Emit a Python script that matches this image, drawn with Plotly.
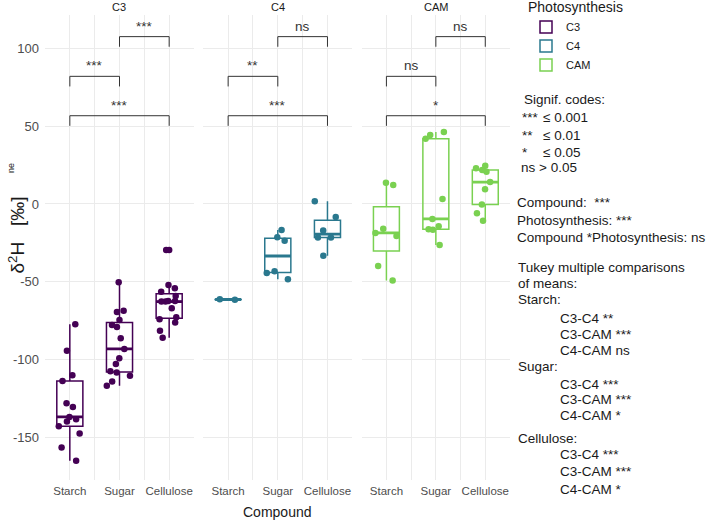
import numpy as np
import plotly.graph_objects as go

W, H = 709, 520


def px(x):
    return x / W


def py(y):
    return 1 - y / H


FONT = "Liberation Sans, Arial, sans-serif"

# ---------------- data ----------------
compounds = ["Starch", "Sugar", "Cellulose"]
photo_types = ["C3", "C4", "CAM"]
colors = ["#440154", "#2A788E", "#7AD151"]

c3_starch = [-77.3, -94.2, -110.0, -113.7, -128.0, -130.4, -136.8, -139.8,
             -138.3, -142.8, -147.5, -156.5, -164.9]
c3_sugar = [-50.3, -69.4, -68.5, -74.5, -79.0, -77.7, -86.3, -93.1, -99.1,
            -102.8, -108.3, -107.5, -110.3, -114.1, -116.7]
c3_cellulose = [-29.5, -52.0, -54.2, -56.3, -59.1, -62.3, -62.3, -62.7, -62.7,
                -67.0, -72.8, -74.1, -76.2, -81.4, -85.9]

c4_starch = [-61.5, -61.2]
c4_sugar = [-16.7, -21.4, -23.6, -43.2, -44.3, -48.4]
c4_cellulose = [1.7, -8.3, -17.1, -21.6, -21.6, -33.3]

cam_starch = [13.7, 12.2, -15.9, -18.6, -20.6, -39.8, -49.2]
cam_sugar = [46.2, 44.3, 41.9, 3.2, -9.6, -14.3, -16.3, -16.5, -26.3]
cam_cellulose = [24.6, 22.9, 21.8, 20.7, 14.1, 9.4, -0.4, -6.0, -10.7]

panel_data = {
    "C3": [c3_starch, c3_sugar, c3_cellulose],
    "C4": [c4_starch, c4_sugar, c4_cellulose],
    "CAM": [cam_starch, cam_sugar, cam_cellulose],
}

# significance brackets (pair, top y) and labels per panel
bracket_pairs = [("Starch", "Sugar"), ("Starch", "Cellulose"), ("Sugar", "Cellulose")]
bracket_tops = [82.0, 56.7, 107.5]
bracket_tip = 6.5
bracket_labels = {
    "C3": ["***", "***", "***"],
    "C4": ["**", "***", "ns"],
    "CAM": ["ns", "*", "ns"],
}

y_ticks = [-150, -100, -50, 0, 50, 100]
y_ticktext = ["-150", "-100", "-50", "0", "50", "100"]

# ---------------- figure ----------------
fig = go.Figure()

pos = {c: i + 1 for i, c in enumerate(compounds)}
axis_ids = ["", "2", "3"]

for k, ptype in enumerate(photo_types):
    xa, ya = "x" + axis_ids[k], "y" + axis_ids[k]
    col = colors[k]
    groups = panel_data[ptype]
    q1s, meds, q3s, lfs, ufs = [], [], [], [], []
    out_x, out_y = [], []
    for c, vals in zip(compounds, groups):
        v = np.array(vals, dtype=float)
        q1, med, q3 = np.percentile(v, [25, 50, 75])
        iqr = q3 - q1
        inside = v[(v >= q1 - 1.5 * iqr) & (v <= q3 + 1.5 * iqr)]
        q1s.append(q1)
        meds.append(med)
        q3s.append(q3)
        lfs.append(inside.min())
        ufs.append(inside.max())
        for val in v[(v < q1 - 1.5 * iqr) | (v > q3 + 1.5 * iqr)]:
            out_x.append(pos[c])
            out_y.append(val)

    box_x = [pos[c] for c in compounds]
    # box (ggplot-style quartiles)
    fig.add_trace(go.Box(
        x=box_x, q1=q1s, median=meds, q3=q3s,
        lowerfence=lfs, upperfence=ufs,
        name=ptype, legendgroup=ptype, showlegend=True,
        boxpoints=False, whiskerwidth=0,
        line=dict(color=col, width=1.5), fillcolor="rgba(0,0,0,0)",
        xaxis=xa, yaxis=ya, hoverinfo="skip",
    ))
    # thicker median bar (as in ggplot)
    fig.add_trace(go.Box(
        x=box_x, q1=meds, median=meds, q3=meds,
        lowerfence=meds, upperfence=meds,
        name=ptype, legendgroup=ptype, showlegend=False,
        boxpoints=False, whiskerwidth=0,
        line=dict(color=col, width=2.8), fillcolor="rgba(0,0,0,0)",
        xaxis=xa, yaxis=ya, hoverinfo="skip",
    ))
    # outliers drawn at the box centre
    if out_x:
        fig.add_trace(go.Scatter(
            x=out_x, y=out_y, mode="markers",
            marker=dict(color=col, size=6.5),
            showlegend=False, xaxis=xa, yaxis=ya, hoverinfo="skip",
        ))
    # jittered points
    xs, ys = [], []
    for c, vals in zip(compounds, groups):
        xs += [pos[c]] * len(vals)
        ys += list(vals)
    fig.add_trace(go.Box(
        x=xs, y=ys, boxpoints="all", jitter=1.0, pointpos=0,
        marker=dict(color=col, size=6.5, opacity=1),
        line=dict(width=0, color="rgba(0,0,0,0)"), fillcolor="rgba(0,0,0,0)",
        showlegend=False, legendgroup=ptype, name=ptype,
        xaxis=xa, yaxis=ya, hoverinfo="skip",
    ))
    # brackets
    for (a, b), top, lab in zip(bracket_pairs, bracket_tops, bracket_labels[ptype]):
        fig.add_trace(go.Scatter(
            x=[pos[a], pos[a], pos[b], pos[b]],
            y=[top - bracket_tip, top, top, top - bracket_tip],
            mode="lines", line=dict(color="#333333", width=1),
            showlegend=False, xaxis=xa, yaxis=ya, hoverinfo="skip",
        ))
        fig.add_annotation(
            x=(pos[a] + pos[b]) / 2, y=top, xref=xa, yref=ya,
            text=lab, showarrow=False, xanchor="center", yanchor="bottom", yshift=1,
            font=dict(size=13.5, color="#333333", family=FONT),
        )

# ---------------- axes ----------------
x_domains = [(px(45), px(194)), (px(203.3), px(352.3)), (px(361.7), px(510))]
y_domain = [py(480), py(15)]
xtickvals = [0.5, 1, 1.5, 2, 2.5, 3, 3.5]
xticktext = ["", compounds[0], "", compounds[1], "", compounds[2], ""]

layout_axes = {}
for k in range(3):
    sfx = axis_ids[k]
    layout_axes["xaxis" + sfx] = dict(
        domain=list(x_domains[k]), range=[0.5, 3.5], anchor="y" + sfx,
        tickmode="array", tickvals=xtickvals, ticktext=xticktext,
        showgrid=True, gridcolor="#ebebeb", gridwidth=1,
        zeroline=False, showline=False, ticks="",
        tickfont=dict(size=11.5, color="#4d4d4d", family=FONT),
        automargin=False, ticklabelstandoff=2,
    )
    ydict = dict(
        domain=y_domain, range=[-177.3, 121.4], anchor="x" + sfx,
        tickmode="array", tickvals=y_ticks, ticktext=y_ticktext,
        showgrid=True, gridcolor="#ebebeb", gridwidth=1,
        zeroline=False, showline=False, ticks="",
        tickfont=dict(size=13, color="#4d4d4d", family=FONT),
        automargin=False, ticklabelstandoff=5,
    )
    if k > 0:
        ydict["matches"] = "y"
        ydict["showticklabels"] = False
    layout_axes["yaxis" + sfx] = ydict

fig.update_layout(**layout_axes)

# strip titles
strip_x = [119.5, 277.8, 435.9]
for ptype, sx in zip(photo_types, strip_x):
    fig.add_annotation(x=px(sx), y=py(7), xref="paper", yref="paper",
                       text=ptype, showarrow=False,
                       xanchor="center", yanchor="middle",
                       font=dict(size=11, color="#1a1a1a", family=FONT))

# axis titles
fig.add_annotation(x=px(277.5), y=py(511.5), xref="paper", yref="paper",
                   text="Compound", showarrow=False,
                   xanchor="center", yanchor="middle",
                   font=dict(size=14, color="#1a1a1a", family=FONT))
fig.add_annotation(x=px(17), y=py(235.5), xref="paper", yref="paper",
                   text="δ<sup>2</sup>H\u00a0\u00a0\u00a0[‰]", showarrow=False,
                   textangle=-90, xanchor="center", yanchor="middle",
                   font=dict(size=19, color="#1a1a1a", family=FONT))
fig.add_annotation(x=px(11), y=py(168), xref="paper", yref="paper",
                   text="ne", showarrow=False, textangle=-90,
                   xanchor="center", yanchor="middle",
                   font=dict(size=9, color="#1a1a1a", family=FONT))

# right-hand text
side_text = [
    ("Signif. codes:", 522, 100),
    ("***", 519.5, 118), ("≤ 0.001", 540.5, 118),
    ("**", 519.5, 135.5), ("≤ 0.01", 540.5, 135.5),
    ("*", 519.5, 152.5), ("≤ 0.05", 540.5, 152.5),
    ("ns > 0.05", 519, 168),
    ("Compound:  ***", 515, 203),
    ("Photosynthesis: ***", 515, 220),
    ("Compound *Photosynthesis: ns", 515, 237.3),
    ("Tukey multiple comparisons", 516, 267.3),
    ("of means:", 516, 283.3),
    ("Starch:", 516, 299.3),
    ("C3-C4 **", 557.5, 318.3),
    ("C3-CAM ***", 557.5, 334.3),
    ("C4-CAM ns", 557.5, 350.7),
    ("Sugar:", 516, 366.7),
    ("C3-C4 ***", 557.5, 384),
    ("C3-CAM ***", 557.5, 399.5),
    ("C4-CAM *", 557.5, 415.7),
    ("Cellulose:", 516, 438.3),
    ("C3-C4 ***", 557.5, 454.5),
    ("C3-CAM ***", 557.5, 471.7),
    ("C4-CAM *", 557.5, 489.3),
]
for txt, tx, ty in side_text:
    fig.add_annotation(x=px(tx), y=py(ty), xref="paper", yref="paper",
                       text=txt.replace("  ", "\u00a0\u00a0"), showarrow=False,
                       xanchor="left", yanchor="middle",
                       font=dict(size=13.5, color="#1a1a1a", family=FONT))

fig.update_layout(
    width=W, height=H, template="none",
    margin=dict(l=0, r=0, t=0, b=0, autoexpand=False),
    paper_bgcolor="white", plot_bgcolor="white",
    boxmode="overlay", boxgap=0.25,
    font=dict(family=FONT, color="#1a1a1a"),
    legend=dict(
        x=px(526), y=1.011, xanchor="left", yanchor="top",
        title=dict(text="Photosynthesis", font=dict(size=14, color="#1a1a1a")),
        font=dict(size=11, color="#1a1a1a"),
        bgcolor="rgba(0,0,0,0)", traceorder="normal",
    ),
)

fig.write_html(
    "out.html",
    config={"displayModeBar": False},
    post_script="document.body.style.margin='0';document.documentElement.style.margin='0';",
)
